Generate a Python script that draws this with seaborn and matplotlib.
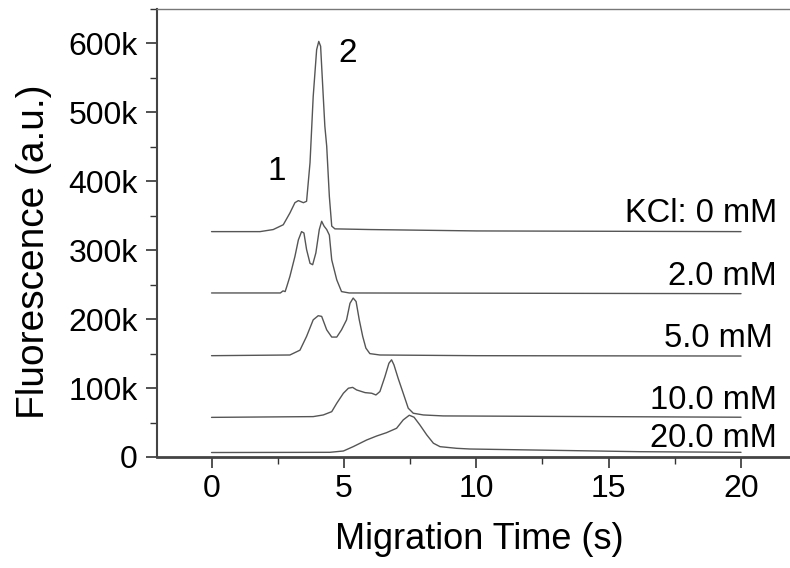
import matplotlib
matplotlib.use("Agg")
import matplotlib.pyplot as plt
import seaborn as sns
import pandas as pd
from matplotlib.ticker import MultipleLocator, FuncFormatter

# ---- data (time in s, fluorescence in a.u., offsets included) ----
t_0mM = [0, 1.83, 2.33, 2.71, 2.96, 3.15, 3.28, 3.47, 3.59, 3.72, 3.84, 3.97, 4.05, 4.12,
         4.22, 4.28, 4.35, 4.45, 4.54, 4.66, 6.0, 10.0, 20.0]
f_0mM = [327e3, 327e3, 330e3, 337e3, 354e3, 369e3, 372e3, 369e3, 371e3, 427e3, 523e3, 591e3,
         603e3, 596e3, 523e3, 480e3, 451e3, 378e3, 335e3, 331e3, 330e3, 328e3, 327e3]

t_2mM = [0, 2.6, 2.7, 2.78, 2.84, 2.96, 3.15, 3.28, 3.40, 3.49, 3.59, 3.72, 3.82, 3.94, 4.07,
         4.16, 4.25, 4.35, 4.45, 4.54, 4.73, 4.91, 5.2, 20]
f_2mM = [238e3, 238e3, 241e3, 240e3, 247e3, 262e3, 291e3, 315e3, 327e3, 325e3, 301e3, 281e3,
         279e3, 296e3, 330e3, 342e3, 335e3, 330e3, 322e3, 286e3, 257e3, 240e3, 238e3, 237e3]

t_5mM = [0, 2.96, 3.34, 3.59, 3.84, 4.03, 4.16, 4.35, 4.54, 4.73, 4.91, 5.10, 5.23, 5.35,
         5.46, 5.58, 5.71, 5.83, 5.98, 6.36, 10, 20]
f_5mM = [147e3, 148e3, 155e3, 175e3, 199e3, 205e3, 204e3, 184.5e3, 174e3, 174e3, 184.5e3,
         199e3, 223e3, 230.6e3, 225.6e3, 199e3, 175e3, 158e3, 150e3, 148e3, 147e3, 146.5e3]

t_10mM = [0, 3.84, 4.22, 4.54, 4.73, 4.98, 5.17, 5.33, 5.48, 5.80, 6.05, 6.21, 6.36, 6.55,
          6.70, 6.80, 6.89, 7.05, 7.24, 7.43, 7.62, 8.0, 8.75, 20]
f_10mM = [57.5e3, 58.6e3, 61e3, 65.8e3, 78e3, 92.5e3, 99.8e3, 101e3, 97.3e3, 93.4e3, 92.5e3,
          90e3, 95e3, 116.7e3, 136e3, 141e3, 133.7e3, 114e3, 92.5e3, 70.8e3, 63.5e3, 61e3,
          59.6e3, 57.7e3]

t_20mM = [0, 4.47, 4.98, 5.35, 5.86, 6.24, 6.61, 6.99, 7.24, 7.47, 7.65, 7.87, 8.13, 8.38,
          8.63, 9.26, 9.76, 12.4, 16.2, 20]
f_20mM = [6.5e3, 6.8e3, 8.7e3, 15e3, 24.7e3, 30.5e3, 35.3e3, 41.7e3, 53.8e3, 60.6e3, 57.7e3,
          46.5e3, 32e3, 20e3, 15e3, 12.6e3, 11.6e3, 10e3, 7.7e3, 6.8e3]

trace_names = ["KCl: 0 mM", "2.0 mM", "5.0 mM", "10.0 mM", "20.0 mM"]
label_x = [21.36, 21.36, 21.2, 21.36, 21.36]
label_y = [341e3, 250e3, 160e3, 69.7e3, 14.5e3]

peak_labels = ["1", "2"]
peak_label_x = [2.48, 5.15]
peak_label_y = [414e3, 585e3]

x_ticks = [0, 5, 10, 15, 20]
y_ticks = [0, 100e3, 200e3, 300e3, 400e3, 500e3, 600e3]

# ---- build long table ----
frames = []
for name, t, f in zip(trace_names,
                      [t_0mM, t_2mM, t_5mM, t_10mM, t_20mM],
                      [f_0mM, f_2mM, f_5mM, f_10mM, f_20mM]):
    frames.append(pd.DataFrame({"time": t, "fluor": f, "trace": name}))
df = pd.concat(frames, ignore_index=True)

sns.set_theme(style="ticks")
plt.rcParams["font.family"] = ["Liberation Sans", "DejaVu Sans"]

fig = plt.figure(figsize=(7.9, 5.68), dpi=100)
ax = fig.add_axes([157 / 790, 111 / 568, 1 - 157 / 790, 448 / 568])

line_col = "#555555"
for name in trace_names:
    sns.lineplot(data=df[df["trace"] == name], x="time", y="fluor", ax=ax,
                 estimator=None, sort=False, color=line_col, linewidth=1.0, legend=False)

ax.set_xlim(-2.06, 21.85)
ax.set_ylim(0, 650e3)
ax.set_xticks(x_ticks)
ax.set_yticks(y_ticks)
ax.xaxis.set_minor_locator(MultipleLocator(2.5))
ax.yaxis.set_minor_locator(MultipleLocator(50e3))
ax.yaxis.set_major_formatter(FuncFormatter(lambda v, p: "0" if v == 0 else f"{int(v/1000)}k"))

ax.tick_params(axis="both", which="major", length=8, width=1.2, color="#333333",
               labelsize=23, labelcolor="black", direction="out")
ax.tick_params(axis="y", which="major", pad=6)
ax.tick_params(axis="x", which="major", pad=4)
ax.tick_params(axis="both", which="minor", length=5, width=1.0, color="#333333", direction="out")

for s in ["left", "bottom"]:
    ax.spines[s].set_color("#444444")
ax.spines["left"].set_linewidth(1.5)
ax.spines["bottom"].set_linewidth(2.0)
ax.spines["right"].set_visible(False)
ax.spines["top"].set_visible(True)
ax.spines["top"].set_color("#777777")
ax.spines["top"].set_linewidth(1.0)

ax.set_xlabel("Migration Time (s)", fontsize=26, color="black")
ax.set_ylabel("Fluorescence (a.u.)", fontsize=28, color="black")
ax.xaxis.set_label_coords(0.509, -0.145)
ax.yaxis.set_label_coords(-0.166, 0.4576)

for name, x, y in zip(trace_names, label_x, label_y):
    ax.text(x, y, name, fontsize=23.5, ha="right", va="baseline", color="black")

for lab, x, y in zip(peak_labels, peak_label_x, peak_label_y):
    ax.text(x, y, lab, fontsize=24, ha="center", va="center", color="black")

fig.savefig("out.png", dpi=100)
